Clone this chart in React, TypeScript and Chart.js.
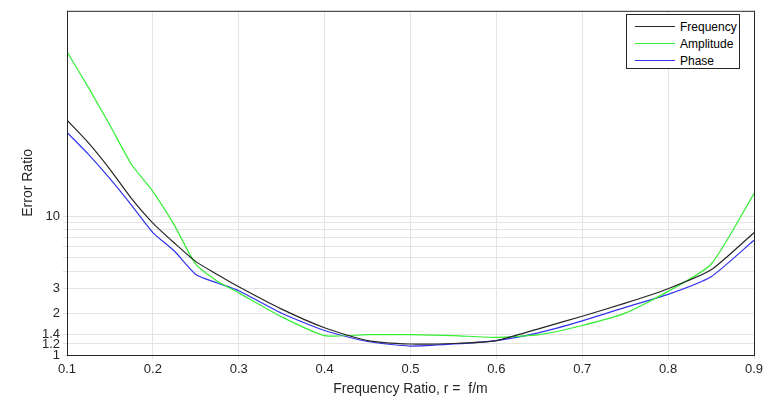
import React, { useEffect, useRef } from "react";
import { Chart, registerables } from "chart.js";
Chart.register(...registerables);

const xs = [0.1, 0.125, 0.15, 0.175, 0.2, 0.225, 0.25, 0.275, 0.3, 0.35, 0.4, 0.45, 0.5, 0.55, 0.6, 0.65, 0.7, 0.75, 0.8, 0.85, 0.9];
const frequency = [49, 33.6, 21.7, 13.4, 8.9, 6.4, 4.7, 3.8, 3.1, 2.14, 1.57, 1.27, 1.2, 1.21, 1.27, 1.55, 1.9, 2.36, 3.0, 4.1, 7.6];
const amplitude = [152, 84, 45, 23.6, 15, 8.6, 4.5, 3.4, 2.8, 1.88, 1.38, 1.4, 1.4, 1.38, 1.34, 1.4, 1.63, 2.0, 2.87, 4.5, 14.5];
const phase = [40, 27.8, 18.6, 12, 7.6, 5.6, 3.8, 3.3, 2.9, 2.0, 1.5, 1.25, 1.16, 1.2, 1.27, 1.45, 1.76, 2.2, 2.73, 3.66, 6.7];
const yTicks = [1, 1.2, 1.4, 2, 3, 4, 5, 6, 7, 8, 9, 10];
const yLabels = [1, 1.2, 1.4, 2, 3, 10];
const xTicks = [0.1, 0.2, 0.3, 0.4, 0.5, 0.6, 0.7, 0.8, 0.9];
const names = ["Frequency", "Amplitude", "Phase"];
const colors = ["#262626", "#33ee33", "#3333ee"];

export default function App() {
  const ref = useRef<HTMLCanvasElement>(null);
  useEffect(() => {
    const series = [frequency, amplitude, phase];
    const font = { family: "'Liberation Sans', Arial, sans-serif", size: 13 };
    const chart = new Chart(ref.current!, {
      type: "line",
      data: {
        datasets: series.map((s, i) => ({
          label: names[i],
          data: s.map((v, j) => ({ x: xs[j], y: v })),
          borderColor: colors[i],
          borderWidth: 1.2,
          pointRadius: 0,
          tension: 0.2,
        })),
      },
      options: {
        animation: false,
        responsive: false,
        layout: { padding: { top: -5, right: 14, left: 18 } },
        plugins: { legend: { display: false }, tooltip: { enabled: false } },
        scales: {
          x: {
            type: "linear",
            min: 0.1,
            max: 0.9,
            afterBuildTicks: (s: any) => { s.ticks = xTicks.map((v) => ({ value: v })); },
            afterFit: (s: any) => { s.height = 45; },
            ticks: { color: "#262626", font, callback: (v: any) => String(+Number(v).toFixed(1)), maxRotation: 0 },
            grid: { color: "#e4e4e4", tickLength: 4 },
            border: { display: false },
            title: { display: true, text: "Frequency Ratio, r =  f/m", color: "#262626", font: { ...font, size: 14 }, padding: 2 },
          },
          y: {
            type: "logarithmic",
            min: 1,
            max: 300,
            afterBuildTicks: (s: any) => { s.ticks = yTicks.map((v) => ({ value: v })); },
            afterFit: (s: any) => { s.width = 49; },
            ticks: {
              color: "#262626",
              font,
              autoSkip: false,
              callback: (v: any) => (yLabels.includes(Number(v)) ? String(v) : ""),
            },
            grid: { color: "#e4e4e4", tickLength: 4 },
            border: { display: false },
            title: { display: true, text: "Error Ratio", color: "#262626", font: { ...font, size: 14 }, padding: 2 },
          },
        },
      },
      plugins: [
        {
          id: "box",
          afterDraw(c: any) {
            const a = c.chartArea;
            const ctx = c.ctx;
            ctx.save();
            ctx.strokeStyle = "#262626";
            ctx.lineWidth = 1;
            ctx.strokeRect(a.left + 0.5, a.top + 0.5, a.right - a.left, a.bottom - a.top);
            ctx.restore();
          },
        },
      ],
    });
    return () => chart.destroy();
  }, []);
  return (
    <div style={{ position: "absolute", left: 0, top: 0, width: 768, height: 400, background: "#fff" }}>
      <canvas ref={ref} width={768} height={400} />
      <div
        style={{
          position: "absolute",
          left: 626,
          top: 14,
          width: 114,
          height: 55,
          border: "1px solid #262626",
          background: "#fff",
          fontFamily: "'Liberation Sans', Arial, sans-serif",
          fontSize: 12,
          color: "#000",
          boxSizing: "border-box",
          padding: "3px 0 0 8px",
        }}
      >
        {names.map((n, i) => (
          <div key={n} style={{ display: "flex", alignItems: "center", height: 17 }}>
            <span style={{ display: "inline-block", width: 40, height: 0, borderTop: `1px solid ${colors[i]}`, marginRight: 5 }} />
            {n}
          </div>
        ))}
      </div>
    </div>
  );
}
